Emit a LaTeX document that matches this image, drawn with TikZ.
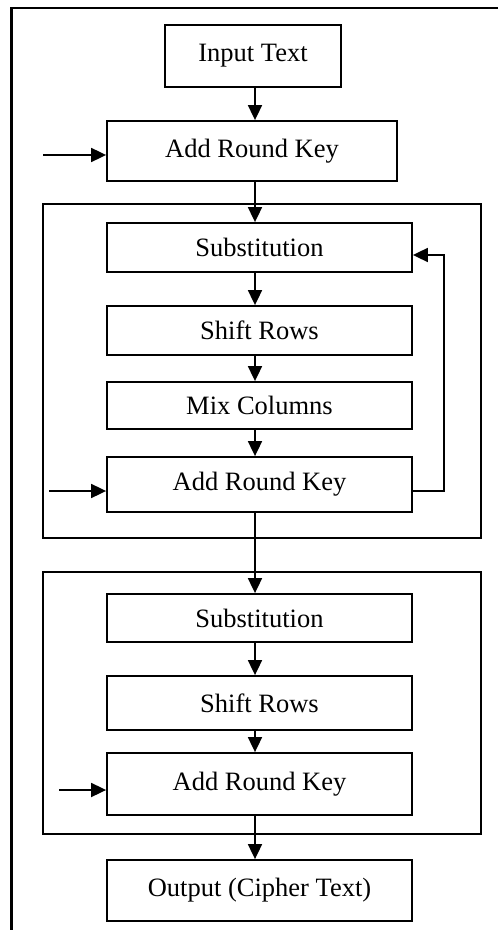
\documentclass[tikz,border=0pt]{standalone}
\usepackage{fontspec}
\setmainfont{Liberation Serif}
\usepackage{tikz}
\usetikzlibrary{arrows.meta}

\begin{document}
\begin{tikzpicture}[x=0.5pt,y=-0.5pt,
  block/.style={draw, line width=0.9pt, inner sep=0pt, font=\fontsize{13.25}{15}\selectfont},
  arr/.style={line width=0.9pt, -{Triangle[length=7.5pt,width=7pt]}}]

  \useasboundingbox (0,0) rectangle (498,930);

  % Outer frame (cut at the edge)
  \draw[line width=1.1pt] (498,8) -- (11.5,8) -- (11.5,930);

  % Round frames
  \draw[line width=0.9pt] (43,204) rectangle (481,538);
  \draw[line width=0.9pt] (43,572) rectangle (481,834);

  % Blocks
  \node[block, minimum width=88pt, minimum height=31pt] (in) at (253,56) {Input Text};
  \node[block, minimum width=145pt, minimum height=30pt] (ark1) at (252,151) {Add Round Key};

  \node[block, minimum width=152.5pt, minimum height=24.5pt] (sub1) at (259.5,247.5) {Substitution};
  \node[block, minimum width=152.5pt, minimum height=24.5pt] (shift1) at (259.5,330.5) {Shift Rows};
  \node[block, minimum width=152.5pt, minimum height=23.5pt] (mix) at (259.5,405.5) {Mix Columns};
  \node[block, minimum width=152.5pt, minimum height=27.5pt] (ark2) at (259.5,484.5) {Add Round Key};

  \node[block, minimum width=152.5pt, minimum height=24pt] (sub2) at (259.5,618) {Substitution};
  \node[block, minimum width=152.5pt, minimum height=27pt] (shift2) at (259.5,703) {Shift Rows};
  \node[block, minimum width=152.5pt, minimum height=31pt] (ark3) at (259.5,784) {Add Round Key};

  \node[block, minimum width=152.5pt, minimum height=30.5pt] (out) at (259.5,890.5) {Output (Cipher Text)};

  % Main flow
  \coordinate (axis) at (255,0);
  \draw[arr] (in.south -| axis) -- (ark1.north -| axis);
  \draw[arr] (ark1.south -| axis) -- (sub1.north -| axis);
  \draw[arr] (sub1.south -| axis) -- (shift1.north -| axis);
  \draw[arr] (shift1.south -| axis) -- (mix.north -| axis);
  \draw[arr] (mix.south -| axis) -- (ark2.north -| axis);
  \draw[arr] (ark2.south -| axis) -- (sub2.north -| axis);
  \draw[arr] (sub2.south -| axis) -- (shift2.north -| axis);
  \draw[arr] (shift2.south -| axis) -- (ark3.north -| axis);
  \draw[arr] (ark3.south -| axis) -- (out.north -| axis);

  % Loop back to the next round
  \draw[arr] ([yshift=-3.25pt]ark2.east) -- ++(15.5pt,0) |- ([yshift=-3.75pt]sub1.east);

  % Round keys
  \coordinate (k1) at (43,155);
  \coordinate (k2) at (49,491);
  \coordinate (k3) at (59,790);
  \draw[arr] (k1) -- (k1 -| ark1.west);
  \draw[arr] (k2) -- (k2 -| ark2.west);
  \draw[arr] (k3) -- (k3 -| ark3.west);

\end{tikzpicture}
\end{document}
